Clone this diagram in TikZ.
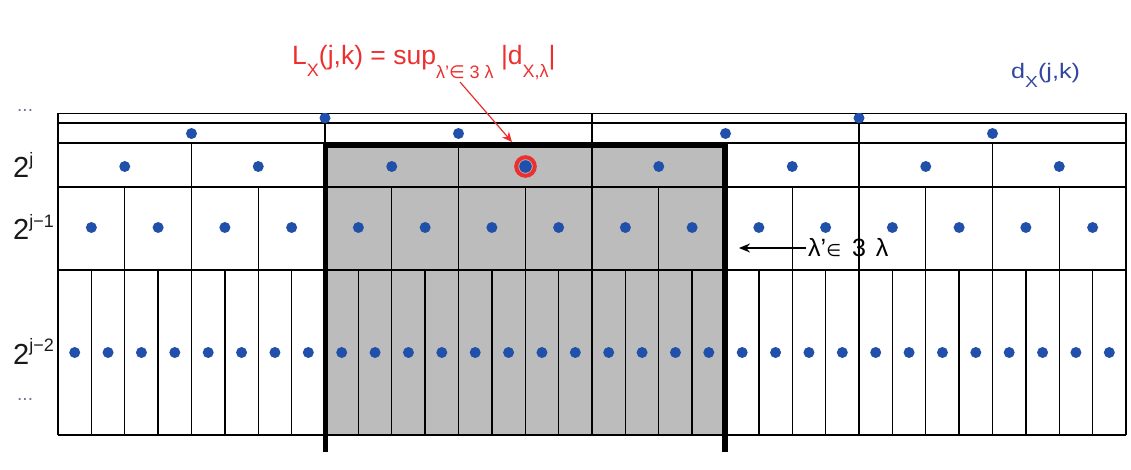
\documentclass[tikz,border=0pt]{standalone}
\usepackage{fontspec}
\setmainfont{Liberation Sans}
\newfontfamily\dejavu{DejaVu Sans}
\usetikzlibrary{arrows.meta}
\definecolor{dotblue}{RGB}{33,80,170}
\definecolor{lred}{RGB}{236,48,48}
\definecolor{cellgray}{RGB}{188,188,188}
\definecolor{lblblue}{RGB}{50,70,160}
\definecolor{dotgray}{RGB}{110,120,150}
\newcommand{\lsub}[2]{\raisebox{#1}{\fontsize{18}{20}\selectfont #2}}
\newcommand{\lsup}[1]{\raisebox{0.42em}{\fontsize{18}{20}\selectfont #1}}
\begin{document}
\begin{tikzpicture}[x=1pt,y=-1pt,
  grid/.style={line width=1.3pt,black},
  dotfill/.style={fill=dotblue},
  frameline/.style={line width=5.5pt,line join=miter},
  lvl/.style={anchor=base west,inner sep=0pt,font=\fontsize{29}{30}\selectfont,text=black!90},
  more/.style={anchor=base west,inner sep=0pt,font=\fontsize{19}{19}\selectfont,text=dotgray}]
\useasboundingbox (0,0) rectangle (1131,470);
% shaded neighbourhood
\fill[cellgray] (325,143) rectangle (725.5,435);
% grid
\foreach \tp/\bt/\n in {113.5/123/2,123/143/4,143/187/8,187/270/16,270/435/32}{
  \draw[grid] (58,\tp) -- (1126,\tp);
  \draw[grid] (58,\bt) -- (1126,\bt);
  \foreach \i in {0,...,\n}{
    \draw[grid] ({58+(\i/\n)*1068},\tp) -- ({58+(\i/\n)*1068},\bt);
  }
}
% dots
\begin{scope}
  \clip (58,113.5) rectangle (1126,123);
  \fill[dotfill] (325,118) circle (5.5);
  \fill[dotfill] (859,118) circle (5.5);
\end{scope}
\foreach \yd/\n in {133.5/4,166.5/8,227.5/16,352.5/32}{
  \foreach \i in {1,...,\n}{
    \fill[dotfill] ({58+((\i-0.5)/\n)*1068},\yd) circle (5.5);
  }
}
% highlighted coefficient
\draw[lred,line width=4pt] (525.5,166.5) circle (9.3);
\fill[dotfill] (525.5,166.5) circle (6.3);
% thick frame
\draw[frameline] (325.5,452) -- (325.5,145) -- (725,145) -- (725,452);
% level labels
\node[more] (dtop) at (17,112) {...};
\node[lvl] (lj) at (13,178) {2\lsup{j}};
\node[lvl] (lj1) at (13,240) {2\lsup{j−1}};
\node[lvl] (lj2) at (13,364) {2\lsup{j−2}};
\node[more] (dbot) at (17,400) {...};
% formula
\node[anchor=base west,inner sep=0pt,text=lred,font=\fontsize{26.5}{30}\selectfont] (lab) at (292,65)
  {L\lsub{-12pt}{X}(j,k) = sup\lsub{-14pt}{λ'{\dejavu ∈} 3 λ} |d\lsub{-13pt}{X,λ}|};
\coordinate (redstart) at (460,82);
\coordinate (redtip) at (512,142);
\draw[lred,line width=1.2pt,-{Stealth[length=10pt,width=9pt]}] (redstart) -- (redtip);
% d_X(j,k)
\node[anchor=base west,inner sep=0pt,text=lblblue,font=\fontsize{21}{22}\selectfont] (dx) at (1011,79)
  {\scalebox{1.2}[1]{d\raisebox{-9pt}{\fontsize{16}{18}\selectfont X}(j,k)}};
% neighbourhood label
\node[anchor=west,inner sep=2pt,font=\fontsize{25}{26}\selectfont] (nb) at (806,248)
  {λ'{\dejavu\fontsize{17}{18}\selectfont ∈}\hspace{11pt}3\hspace{10pt}λ};
\coordinate (nbtip) at (739,248);
\draw[line width=1.3pt,-{Stealth[length=11pt,width=9pt]}] (nb.west) -- (nbtip);
\end{tikzpicture}
\end{document}
